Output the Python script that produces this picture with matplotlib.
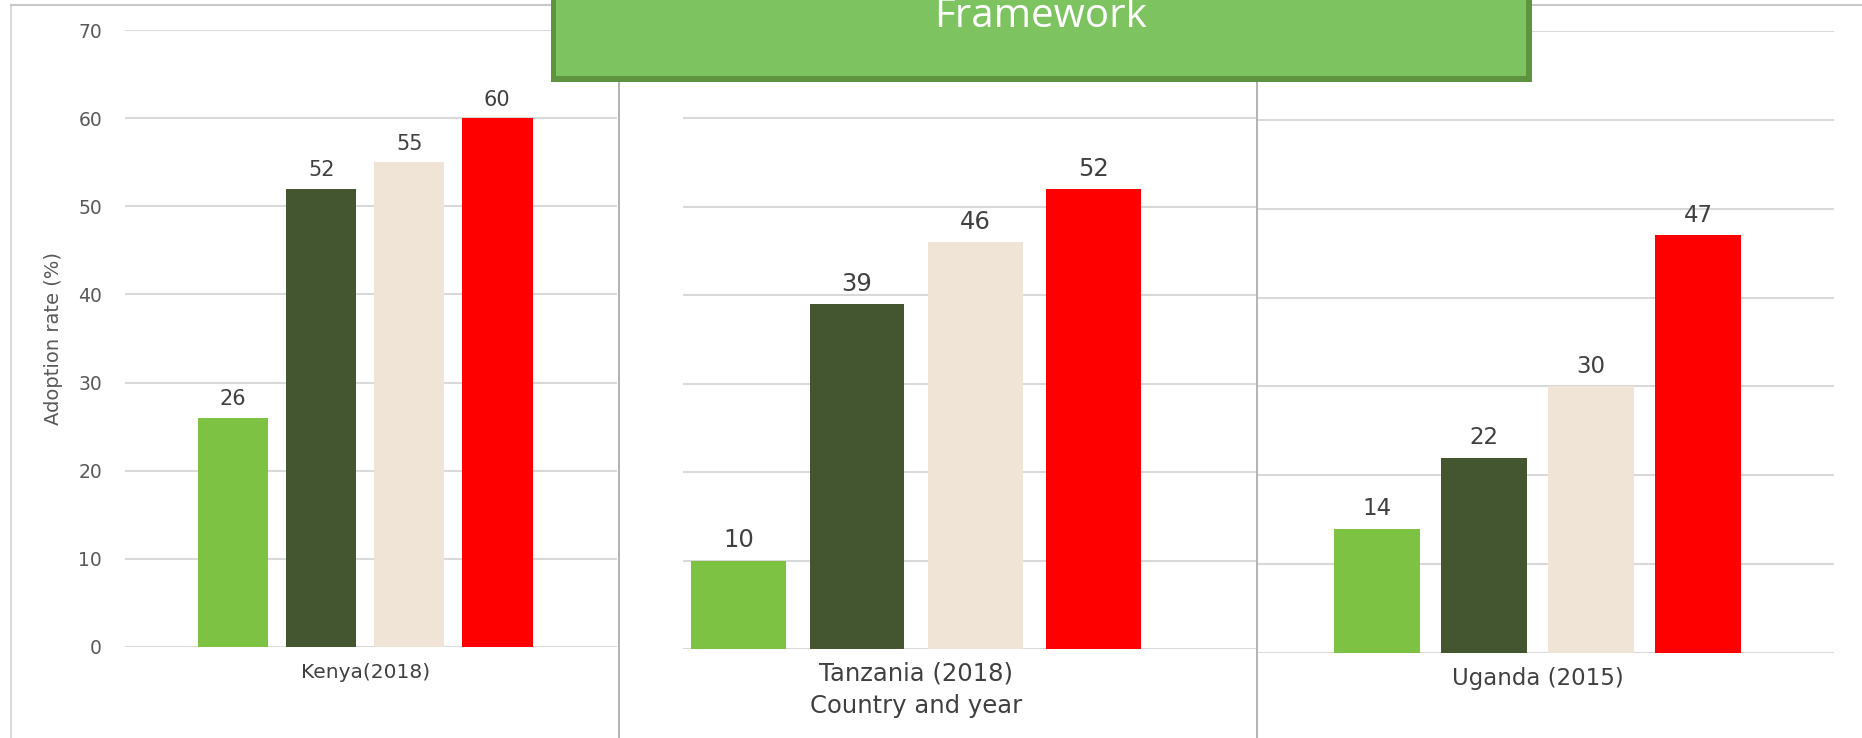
import numpy as np
import matplotlib.pyplot as plt
from matplotlib.patches import Rectangle
from matplotlib.lines import Line2D

# data
countries = ['Kenya(2018)', 'Tanzania (2018)', 'Uganda (2015)']
kenya = [26, 52, 55, 60]
tanzania = [10, 39, 46, 52]
uganda = [14, 22, 30, 47]
series_colors = ['#7DC242', '#43562F', '#F0E4D6', '#FF0000']
yticks = [0, 10, 20, 30, 40, 50, 60, 70]

W, H = 1862, 738
plt.rcParams['font.family'] = ['DejaVu Sans']
fig = plt.figure(figsize=(W / 100, H / 100), dpi=100)


def px_axes(x0, x1, y_top, y_bottom):
    # pixel box (top-left origin) -> figure axes
    return fig.add_axes([x0 / W, 1 - y_bottom / H, (x1 - x0) / W, (y_bottom - y_top) / H])


# (values, axes px box, xlim, label px y, value label size, category label size)
panels = [
    (kenya, (125, 617, 30, 647), (-1.23, 4.36), 672, 15, 14.5),
    (tanzania, (683, 1256, 30, 649), (-0.47, 4.37), 674, 17.5, 17.5),
    (uganda, (1258, 1834, 31, 653), (-1.11, 4.27), 678, 16.5, 16.5),
]

for i, (vals, box, xl, lab_y, vfs, cfs) in enumerate(panels):
    ax = px_axes(*box)
    x = np.arange(len(vals))
    bars = ax.bar(x, vals, width=0.8, color=series_colors, zorder=3)
    ax.bar_label(bars, labels=[str(v) for v in vals], padding=6,
                 fontsize=vfs, color='#404040')
    ax.set_xlim(*xl)
    ax.set_ylim(0, 70)
    ax.set_yticks(yticks)
    ax.grid(axis='y', color='#D9D9D9', linewidth=1.5, zorder=0)
    ax.set_xticks([])
    for s in ax.spines.values():
        s.set_visible(False)
    ax.tick_params(axis='y', length=0, labelsize=13.5, labelcolor='#595959', pad=16.5)
    if i == 0:
        ax.set_ylabel('Adoption rate (%)', fontsize=14, color='#595959')
        ax.yaxis.set_label_coords(-(125 - 63) / 492, 0.5)
    else:
        ax.set_yticklabels([])
    h = box[3] - box[2]
    # category label sits under the centre of the bar group
    trans = ax.get_xaxis_transform()
    ax.text(x.mean(), -(lab_y - box[3]) / h, countries[i], transform=trans,
            ha='center', va='center', fontsize=cfs, color='#404040')
    if i == 1:
        ax.text(x.mean(), -(706 - box[3]) / h, 'Country and year', transform=trans,
                ha='center', va='center', fontsize=17.5, color='#404040')

# borders and panel dividers
fig.add_artist(Line2D([11 / W, 11 / W], [0, 1 - 5 / H], color='#D9D9D9', lw=1.5))
fig.add_artist(Line2D([11 / W, 1], [1 - 5 / H, 1 - 5 / H], color='#C8C8C8', lw=1.5))
for xd in [619, 1257]:
    fig.add_artist(Line2D([xd / W, xd / W], [0, 1 - 80 / H], color='#A6A6A6', lw=1.2))

# green title box
fig.add_artist(Rectangle((551 / W, 1 - 82 / H), (1532 - 551) / W, 90 / H,
                         transform=fig.transFigure, facecolor='#5E9440',
                         edgecolor='none', zorder=10))
fig.add_artist(Rectangle((556 / W, 1 - 76 / H), (1526 - 556) / W, 90 / H,
                         transform=fig.transFigure, facecolor='#7DC35F',
                         edgecolor='none', zorder=11))
fig.text(1040 / W, 1 - 27 / H, 'Framework', ha='center', va='baseline',
         fontsize=29, color='white', family=['Open Sans', 'DejaVu Sans'], zorder=12)

fig.savefig('out.png', dpi=100)
